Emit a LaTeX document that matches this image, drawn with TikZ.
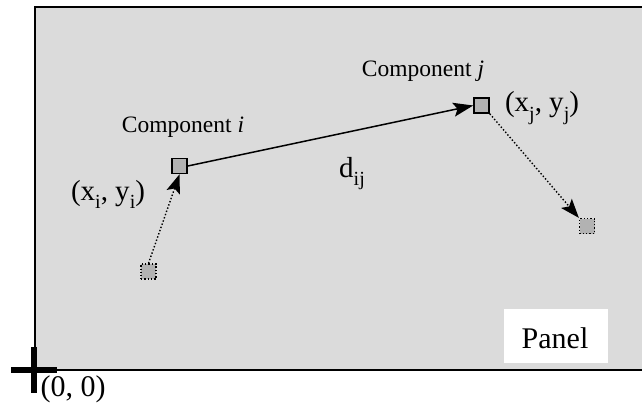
\documentclass[tikz,border=0pt]{standalone}
\usepackage{fontspec}
\setmainfont{Liberation Serif}
\usetikzlibrary{arrows.meta}
\newcommand{\mysub}[1]{\raisebox{-0.28em}{\fontsize{20}{20}\selectfont #1}}
\begin{document}
\begin{tikzpicture}[x=1pt,y=-1pt,
  comp/.style={draw=black,line width=1.6pt,fill=gray!60!white,minimum size=15pt,inner sep=0pt},
  ghost/.style={draw=black,dotted,line width=1.3pt,fill=gray!60!white,minimum size=15pt,inner sep=0pt},
  lab/.style={inner sep=0pt,font=\fontsize{23.5}{26}\selectfont},
  coord/.style={inner sep=0pt,font=\fontsize{29}{32}\selectfont},
  solidarrow/.style={line width=1.5pt,-{Stealth[length=20pt,width=14pt,inset=4pt]}},
  dotarrow/.style={line width=1.4pt,dotted,-{Stealth[length=19pt,width=14pt,inset=4pt]}}]
\useasboundingbox (0,0) rectangle (642,409);
\begin{scope}
\clip (0,0) rectangle (642,409);
\draw[line width=2pt,fill=gray!28!white] (35,7) rectangle (660,370);
\end{scope}
\node[fill=white,minimum width=104pt,minimum height=54pt,inner sep=0pt] (panelbox) at (556,336) {};
\node[inner sep=0pt,font=\fontsize{30}{32}\selectfont,anchor=base] (panellab) at (555,348) {Panel};
% origin cross
\coordinate (org) at (34,370);
\draw[line width=6pt] (11,370) -- (57,370);
\draw[line width=6pt] (34,347) -- (34,393);
\node[inner sep=0pt,font=\fontsize{30}{32}\selectfont] (orglab) at (73,389) {(0, 0)};
% components
\node[comp] (ci) at (179.5,166) {};
\node[comp] (cj) at (481.5,105.5) {};
\node[ghost] (gi) at (148.5,271.5) {};
\node[ghost] (gj) at (587,226) {};
% labels
\node[lab,anchor=base] (li) at (183,132) {Component \textit{i}};
\node[lab,anchor=base] (lj) at (423,77) {Component \textit{j}};
\node[coord,anchor=base] (pi) at (108,200) {(x\mysub{i}, y\mysub{i})};
\node[coord,anchor=base] (pj) at (542,112) {(x\mysub{j}, y\mysub{j})};
\node[coord,anchor=base] (dij) at (352,177) {d\mysub{ij}};
% arrows
\draw[solidarrow] (ci.east) -- (cj.west);
\draw[dotarrow] (gi.north) -- (ci.south);
\draw[dotarrow] (cj.south east) -- (gj.north west);
\end{tikzpicture}
\end{document}
